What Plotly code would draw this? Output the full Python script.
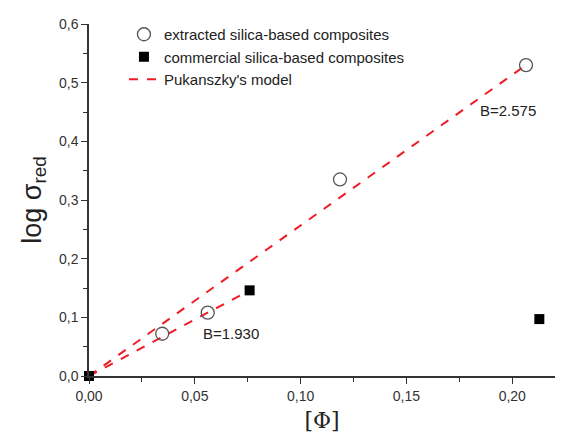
import plotly.graph_objects as go

# Data
extracted_x = [0.0346, 0.0561, 0.1186, 0.2065]
extracted_y = [0.072, 0.108, 0.335, 0.530]
commercial_x = [0.0, 0.0759, 0.2128]
commercial_y = [0.0, 0.146, 0.097]
model_hi_x = [0.0, 0.2065]
model_hi_y = [0.0, 0.530]
model_lo_x = [0.0, 0.0759]
model_lo_y = [0.0, 0.146]
x_ticks = [0.0, 0.05, 0.10, 0.15, 0.20]
x_tick_labels = ["0,00", "0,05", "0,10", "0,15", "0,20"]
y_ticks = [0.0, 0.1, 0.2, 0.3, 0.4, 0.5, 0.6]
y_tick_labels = ["0,0", "0,1", "0,2", "0,3", "0,4", "0,5", "0,6"]

FONT = "Liberation Sans, Arial, sans-serif"
RED = "#ee1c25"

fig = go.Figure()
fig.add_trace(go.Scatter(
    x=model_hi_x, y=model_hi_y, mode="lines",
    line=dict(color=RED, width=2, dash="dash"),
    name="Pukanszky's model", showlegend=True, legendrank=3))
fig.add_trace(go.Scatter(
    x=model_lo_x, y=model_lo_y, mode="lines",
    line=dict(color=RED, width=2, dash="dash"),
    name="Pukanszky's model", showlegend=False))
fig.add_trace(go.Scatter(
    x=extracted_x, y=extracted_y, mode="markers",
    marker=dict(symbol="circle-open", size=13, color="#555555", line=dict(width=1.3)),
    name="extracted silica-based composites", legendrank=1))
fig.add_trace(go.Scatter(
    x=commercial_x, y=commercial_y, mode="markers",
    marker=dict(symbol="square", size=10, color="black"),
    name="commercial silica-based composites", legendrank=2, cliponaxis=False))

fig.add_annotation(x=0.1982, y=0.453, text="B=2.575", showarrow=False,
                   font=dict(family=FONT, size=15, color="#222"))
fig.add_annotation(x=0.0669, y=0.073, text="B=1.930", showarrow=False,
                   font=dict(family=FONT, size=15, color="#222"))

axis_common = dict(
    showline=True, linecolor="#333", linewidth=1.5,
    ticks="outside", ticklen=6, tickwidth=1.2, tickcolor="#333",
    showgrid=False, zeroline=False, automargin=False,
    tickfont=dict(family=FONT, size=14, color="#333"),
    minor=dict(ticks="outside", ticklen=4, tickwidth=1.2, tickcolor="#333", showgrid=False),
)

fig.update_xaxes(range=[0, 0.2202], tickvals=x_ticks, ticktext=x_tick_labels,
                 minor_dtick=0.025, minor_tick0=0,
                 title=dict(text="[Φ]", font=dict(family="DejaVu Serif, Liberation Serif, serif", size=22, color="#222"), standoff=10),
                 **axis_common)
fig.update_yaxes(range=[0, 0.6], tickvals=y_ticks, ticktext=y_tick_labels,
                 minor_dtick=0.05, minor_tick0=0,
                 title=dict(text="log σ<sub>red</sub>", font=dict(family=FONT, size=27, color="#222"), standoff=10),
                 **axis_common)

fig.update_layout(
    width=570, height=436,
    margin=dict(l=89, r=15, t=24, b=60, autoexpand=False),
    plot_bgcolor="white", paper_bgcolor="white",
    font=dict(family=FONT, size=14, color="#222"),
    legend=dict(x=0.075, y=1.017, xanchor="left", yanchor="top",
                bgcolor="rgba(0,0,0,0)", font=dict(family=FONT, size=15, color="#222"),
                tracegroupgap=0, itemwidth=30),
)

fig.write_html("out.html")
